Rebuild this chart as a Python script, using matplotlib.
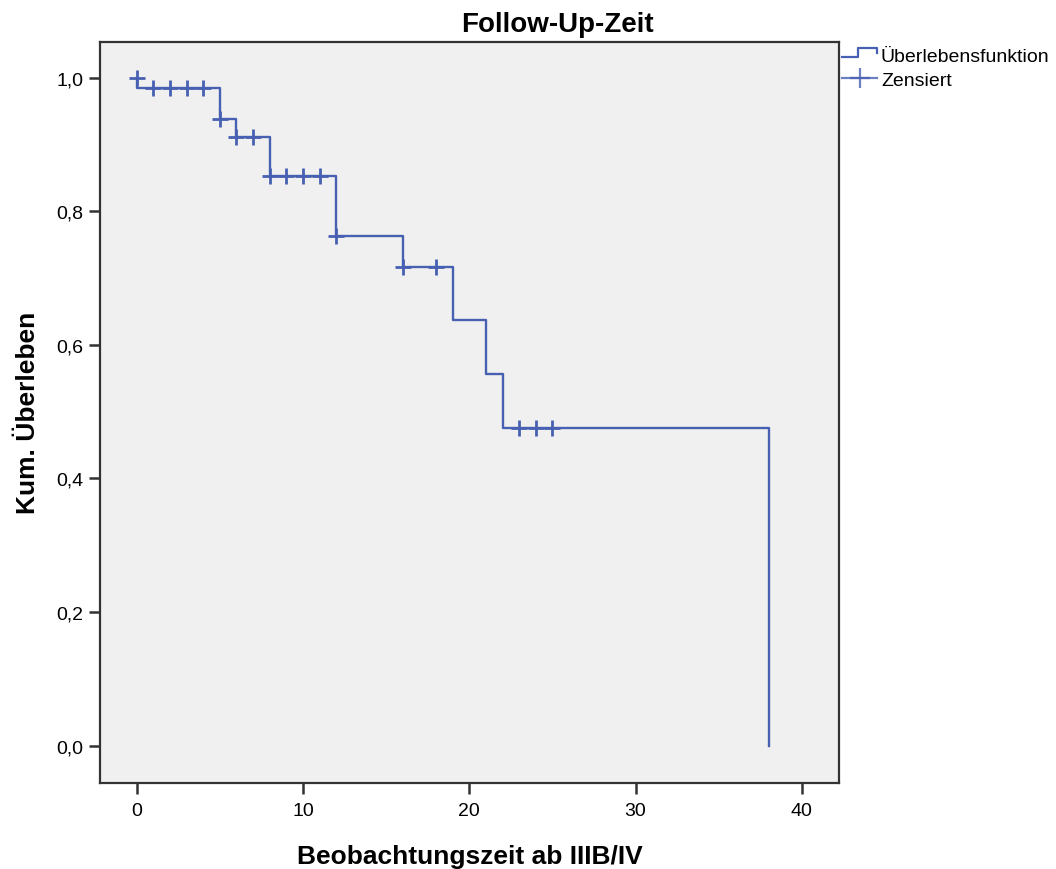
import matplotlib
matplotlib.use("Agg")
import matplotlib.pyplot as plt
from matplotlib.lines import Line2D
from matplotlib.legend_handler import HandlerBase
from matplotlib.ticker import FuncFormatter

plt.rcParams['font.family'] = ['Liberation Sans', 'DejaVu Sans']

# Kaplan-Meier estimate
event_times = [0, 5, 6, 8, 12, 16, 19, 21, 22, 38]
surv_after = [0.985, 0.938, 0.912, 0.853, 0.763, 0.716, 0.637, 0.557, 0.476, 0.0]

censor_times = [0, 1, 2, 3, 4, 5, 6, 7, 8, 9, 10, 11, 12, 16, 18, 23, 24, 25]
censor_surv = [1.0, 0.985, 0.985, 0.985, 0.985, 0.938, 0.912, 0.912,
               0.853, 0.853, 0.853, 0.853, 0.763, 0.716, 0.716,
               0.476, 0.476, 0.476]

x_ticks = [0, 10, 20, 30, 40]
y_ticks = [0.0, 0.2, 0.4, 0.6, 0.8, 1.0]

col = '#4760B2'


class StepHandler(HandlerBase):
    # little step shape like in the SPSS legend
    def create_artists(self, legend, orig_handle, xdescent, ydescent,
                       width, height, fontsize, trans):
        x0 = -xdescent
        y0 = -ydescent
        xs = [x0, x0 + 0.45 * width, x0 + 0.45 * width, x0 + width, x0 + width]
        ys = [y0 + 0.25 * height, y0 + 0.25 * height, y0 + 0.95 * height,
              y0 + 0.95 * height, y0 + 0.55 * height]
        ln = Line2D(xs, ys, color=orig_handle.get_color(),
                    lw=orig_handle.get_linewidth(), transform=trans)
        return [ln]


fig = plt.figure(figsize=(10.56, 8.70), dpi=100)
ax = fig.add_axes([100 / 1056, 1 - 784 / 870, 739 / 1056, (784 - 42.7) / 870])
ax.set_facecolor('#F0F0F0')

xs = [0] + event_times
ys = [1.0] + surv_after
curve, = ax.plot(xs, ys, drawstyle='steps-post', color=col, lw=1.7)
ax.plot(censor_times, censor_surv, ls='none', marker='+', ms=12, mew=2.0, color=col)

ax.set_xlim(-2.21, 42.24)
ax.set_ylim(-0.056, 1.054)
ax.set_xticks(x_ticks)
ax.set_yticks(y_ticks)
ax.yaxis.set_major_formatter(FuncFormatter(lambda v, p: f"{v:.1f}".replace('.', ',')))
ax.tick_params(axis='both', labelsize=14, length=8, width=1.8, color='#333333', pad=4)
ax.tick_params(axis='x', pad=6)
for s in ax.spines.values():
    s.set_linewidth(1.6)
    s.set_color('#333333')

fig.text(557 / 1056, 1 - 32 / 870, 'Follow-Up-Zeit', fontsize=20, fontweight='bold',
         ha='center', va='baseline')
fig.text(470 / 1056, 1 - 864 / 870, 'Beobachtungszeit ab IIIB/IV', fontsize=19,
         fontweight='bold', ha='center', va='baseline')
fig.text(28 / 1056, 1 - 413 / 870, 'Kum. Überleben', fontsize=19, fontweight='bold',
         rotation=90, ha='center', va='center')

step_proxy = Line2D([], [], color=col, lw=1.6)
cens_proxy = Line2D([], [], color=col, lw=1.6, alpha=0.8, marker='+', ms=14, mew=1.6)
fig.legend([step_proxy, cens_proxy], ['Überlebensfunktion', 'Zensiert'],
           handler_map={step_proxy: StepHandler()},
           loc='upper left', bbox_to_anchor=(842 / 1056, 1 - 48 / 870),
           frameon=False, fontsize=14, handlelength=1.8, handletextpad=0.2,
           labelspacing=0.35, borderaxespad=0, borderpad=0, numpoints=1)

fig.savefig('out.png', dpi=100, facecolor='white')
